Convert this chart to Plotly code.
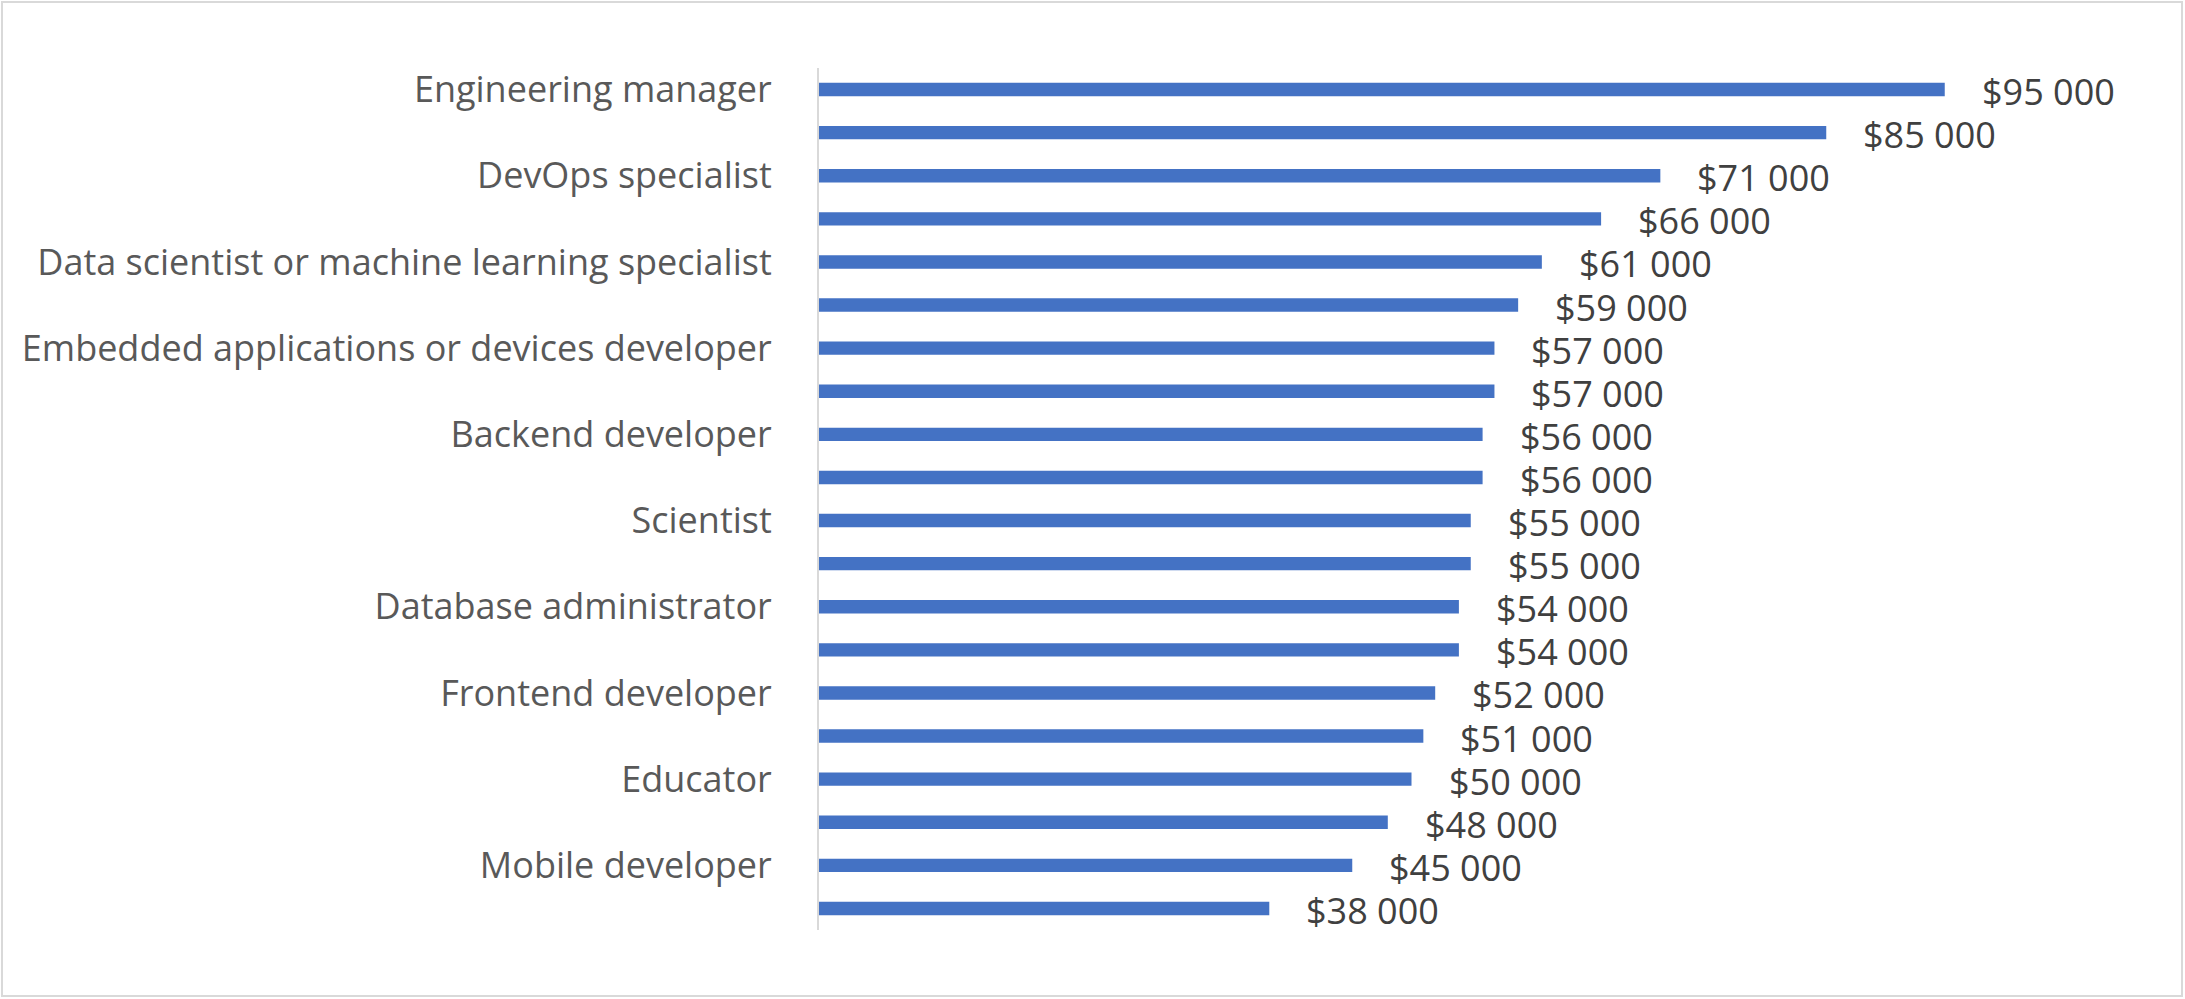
import plotly.graph_objects as go

labels = ["Engineering manager", "", "DevOps specialist", "",
          "Data scientist or machine learning specialist", "",
          "Embedded applications or devices developer", "",
          "Backend developer", "", "Scientist", "",
          "Database administrator", "", "Frontend developer", "",
          "Educator", "", "Mobile developer", ""]
salaries = [95000, 85000, 71000, 66000, 61000, 59000, 57000, 57000,
            56000, 56000, 55000, 55000, 54000, 54000, 52000, 51000,
            50000, 48000, 45000, 38000]
value_text = ["$" + f"{v:,}".replace(",", " ") for v in salaries]
positions = list(range(len(salaries)))

FONT = "Open Sans, Lato, sans-serif"
W, H = 2185, 999
L, R, T, B = 819, 181, 68, 69
pw, ph = W - L - R, H - T - B

fig = go.Figure()
fig.add_trace(go.Bar(
    x=salaries, y=positions, orientation="h",
    marker=dict(color="#4472C4", line=dict(width=0)),
    width=0.31, hoverinfo="skip", showlegend=False,
))
for v, p, t in zip(salaries, positions, value_text):
    fig.add_annotation(x=v, y=p, text=t, showarrow=False, xanchor="left",
                       xshift=35, yshift=-2,
                       font=dict(family=FONT, size=36, color="#404040"))

fig.update_xaxes(range=[0, 100000], visible=False, showgrid=False)
fig.update_yaxes(range=[19.5, -0.5], tickmode="array", tickvals=positions,
                 ticktext=labels, showgrid=False, zeroline=False,
                 showline=True, linecolor="#d9d9d9", linewidth=2,
                 ticks="", ticklabelstandoff=38, automargin=False,
                 tickfont=dict(family=FONT, size=36, color="#595959"))
fig.add_shape(type="rect", xref="paper", yref="paper",
              x0=(2 - L) / pw, x1=(2182 - L) / pw,
              y0=-(996 - (H - B)) / ph, y1=1 + (T - 2) / ph,
              line=dict(color="#d9d9d9", width=2), layer="below")
fig.update_layout(width=W, height=H, margin=dict(l=L, r=R, t=T, b=B),
                  paper_bgcolor="white", plot_bgcolor="white",
                  font=dict(family=FONT))
fig.write_html("out.html", config={"displayModeBar": False})

with open("out.html", encoding="utf-8") as f:
    html = f.read()
html = html.replace("<head>", "<head><style>html,body{margin:0;padding:0;overflow:hidden}</style>", 1)
with open("out.html", "w", encoding="utf-8") as f:
    f.write(html)
